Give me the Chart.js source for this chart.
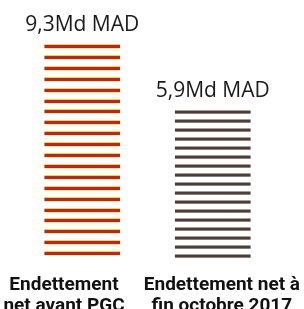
<!DOCTYPE html>
<html>
<head>
<meta charset="utf-8">
<script src="https://cdn.jsdelivr.net/npm/chart.js@4/dist/chart.umd.min.js"></script>
<style>
  html, body { margin: 0; padding: 0; background: #fff; }
  canvas { display: block; }
</style>
</head>
<body>
<canvas id="myChart" width="304" height="309"></canvas>
<script>
// net debt before the PGC and at end of october 2017, in billions of MAD
var labels = [['Endettement', 'net avant PGC'], ['Endettement net à', 'fin octobre 2017']]
var values = [9.3, 5.9]
var unit = 'Md MAD'

// little canvas with horizontal stripes, used as a fill pattern
// rows: list of [offset, height, colour] for one stripe
function stripes(period, count, rows) {
  var c = document.createElement('canvas')
  c.width = 4
  c.height = Math.round(period * count)
  var g = c.getContext('2d')
  for (var i = 0; i < count; i++) {
    var y = Math.round(i * period)
    rows.forEach(function(r) {
      g.fillStyle = r[2]
      g.fillRect(0, y + r[0], 4, r[1])
    })
  }
  return c
}

var ctx = document.getElementById('myChart').getContext('2d')

var redStripes = ctx.createPattern(stripes(10.9, 10, [
  [0, 1, '#efd53c'],
  [1, 3, '#b3272c'],
  [4, 1, '#f4e68e']
]), 'repeat')

var greyStripes = ctx.createPattern(stripes(9, 1, [
  [0, 1, '#a99c99'],
  [1, 2, '#4a3e3c'],
  [3, 1, '#8c7f7c']
]), 'repeat')

var patterns = [redStripes, greyStripes]

// start the stripes at the top of each bar, then write the amounts above
var barDecor = {
  id: 'barDecor',
  beforeDatasetsDraw: function(chart) {
    chart.getDatasetMeta(0).data.forEach(function(bar, i) {
      patterns[i].setTransform(new DOMMatrix().translate(0, Math.round(bar.y)))
    })
  },
  afterDatasetsDraw: function(chart) {
    var c = chart.ctx
    c.save()
    c.font = '21px "Open Sans"'
    c.fillStyle = '#1a1a1a'
    c.textAlign = 'center'
    c.textBaseline = 'alphabetic'
    chart.getDatasetMeta(0).data.forEach(function(bar, i) {
      var txt = values[i].toFixed(1).replace('.', ',') + unit
      c.fillText(txt, bar.x, bar.y - 13)
    })
    c.restore()
  }
}

var myChart = new Chart(ctx, {
  type: 'bar',
  data: {
    labels: labels,
    datasets: [{
      data: values,
      backgroundColor: patterns,
      base: -1.8,
      barPercentage: 0.58,
      categoryPercentage: 1
    }]
  },
  options: {
    responsive: false,
    animation: false,
    layout: {
      padding: { left: 17, right: 26, top: 44, bottom: -24 }
    },
    plugins: {
      legend: { display: false },
      tooltip: { enabled: false }
    },
    scales: {
      x: {
        display: false
      },
      // second axis on the same range, only to place the captions
      // a bit off the bar centres like in the print
      captions: {
        type: 'linear',
        axis: 'x',
        position: 'bottom',
        offset: false,
        min: -0.5,
        max: 1.5,
        afterBuildTicks: function(axis) {
          axis.ticks = [{ value: -0.14 }, { value: 1.07 }]
        },
        afterFit: function(axis) {
          // captions do not sit at the ends, no room needed for them
          axis.paddingLeft = 0
          axis.paddingRight = 0
        },
        grid: { display: false, drawTicks: false },
        border: { display: false },
        ticks: {
          color: '#111',
          padding: 16,
          maxRotation: 0,
          minRotation: 0,
          autoSkip: false,
          callback: function(v, i) {
            return labels[i]
          },
          font: {
            family: 'Roboto',
            size: 19,
            weight: 'bold',
            lineHeight: 1.1
          }
        }
      },
      y: {
        display: false,
        min: -1.8,
        max: 9.3
      }
    }
  },
  plugins: [barDecor]
})
</script>
</body>
</html>
